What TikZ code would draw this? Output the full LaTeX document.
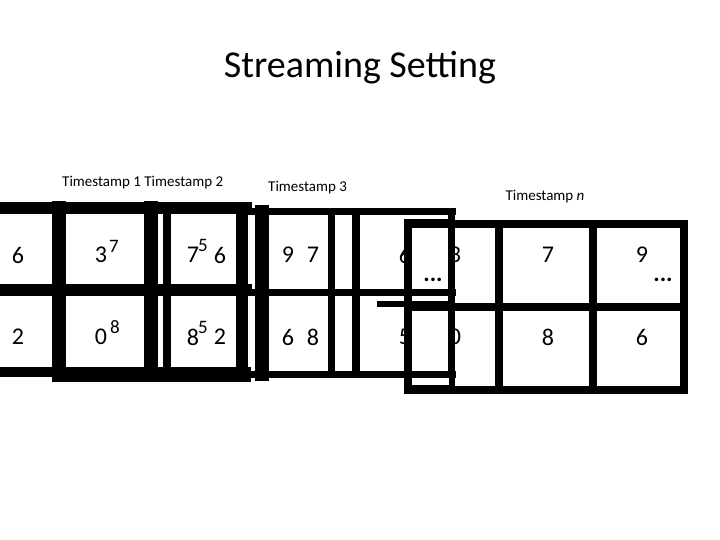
\documentclass[tikz,border=0pt]{standalone}
\usepackage{fontspec}
\setmainfont{Carlito}
\begin{document}
\begin{tikzpicture}[x=1pt,y=-1pt,
  num/.style={font=\fontsize{24}{24}\selectfont,inner sep=0},
  sup/.style={font=\fontsize{19}{19}\selectfont,inner sep=0},
  lab/.style={font=\fontsize{15}{15}\selectfont,inner sep=0},
  bar/.style={line width=#1,line cap=rect}]
\useasboundingbox (0,0) rectangle (720,540);
\node (title) at (360,68) {\fontsize{38}{38}\selectfont Streaming Setting};
\node[lab,anchor=west] (t1) at (62,183) {Timestamp 1 Timestamp 2};
\node[lab,anchor=west] (t3) at (268,188) {Timestamp 3};
\node[lab] (tn) at (545,197) {Timestamp \textit{n}};
% numbers
\foreach \x/\a/\b/\n in {18/6/2/a,101/3/0/b,193/7/8/c,220/6/2/d,288/9/6/e,313/7/8/f,405/6/5/g,455/3/0/h,548/7/8/i,642/9/6/j}{
  \node[num] (r1\n) at (\x,255) {\a};
  \node[num] (r2\n) at (\x,337) {\b};}
\node[sup] (s1) at (114,246) {7};
\node[sup] (s2) at (115,327) {8};
\node[sup] (s3) at (203,245) {5};
\node[sup] (s4) at (203,327) {5};
\node[num] (d1) at (433,280) {\textbf{...}};
\node[num] (d2) at (663,280) {\textbf{...}};
% grid 1
\draw[bar=12] (0,208) -- (246,208);
\draw[bar=12] (0,290) -- (246,290);
\draw[bar=10] (0,372) -- (246,372);
\draw[bar=14] (59,208) -- (59,375);
\draw[bar=14] (151,208) -- (151,375);
\draw[bar=12] (242,208) -- (242,375);
\draw[bar=10] (59,377) -- (246,377);
% grid 2
\draw[bar=8] (167,208) -- (167,372);
% grid 3
\draw[bar=7] (250,212) -- (452,212);
\draw[bar=7] (250,292) -- (452,292);
\draw[bar=7] (250,374) -- (452,374);
\draw[bar=14] (262,212) -- (262,374);
\draw[bar=7] (331,212) -- (331,374);
\draw[bar=8] (356,212) -- (356,374);
\draw[bar=7] (451,212) -- (451,374);
% grid 4
\draw[bar=6] (407,222) -- (452,222) -- (452,388) -- (407,388) -- cycle;
\draw[bar=6] (380,304) -- (452,304);
% grid n
\draw[bar=8] (408,224) -- (684,224) -- (684,390) -- (408,390) -- cycle;
\draw[bar=8] (408,307) -- (684,307);
\draw[bar=8] (499,224) -- (499,390);
\draw[bar=8] (593,224) -- (593,390);
\end{tikzpicture}
\end{document}
